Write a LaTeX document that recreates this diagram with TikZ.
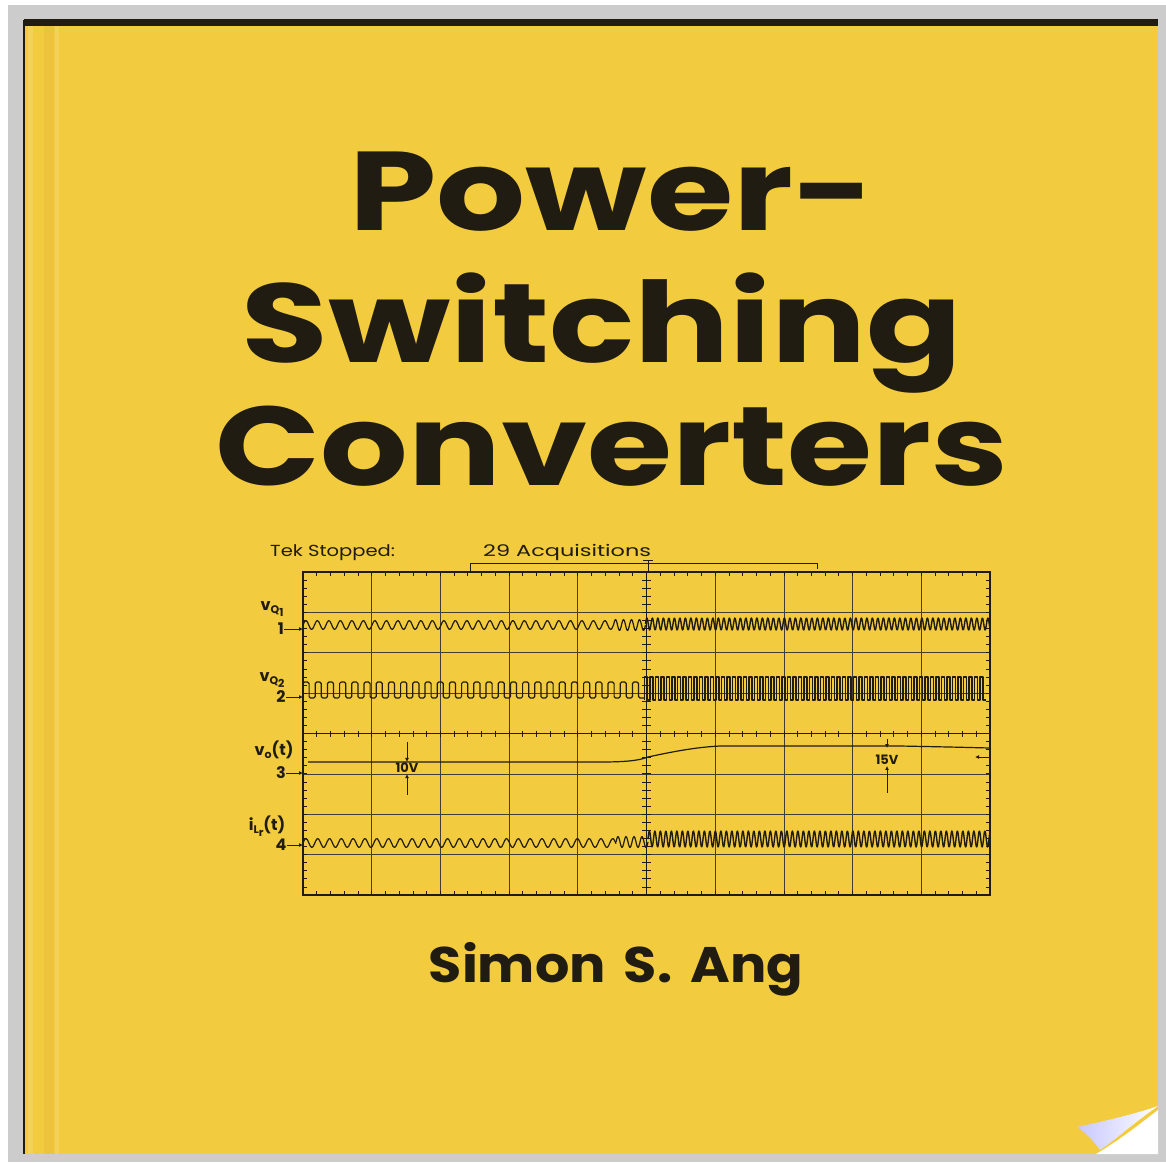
\documentclass[tikz,border=0pt]{standalone}
\usepackage{fontspec}
\setmainfont{Poppins}
\usetikzlibrary{arrows.meta,positioning}
\definecolor{cover}{RGB}{243,203,62}
\definecolor{ink}{RGB}{32,28,18}
\definecolor{frame}{RGB}{204,204,204}
\newcommand{\lowsub}[1]{\raisebox{-3pt}{\fontsize{11}{11}\selectfont #1}}
\newcommand{\widen}[2]{\scalebox{#1}[1]{#2}}

\begin{document}
\begin{tikzpicture}[x=1pt,y=-1pt,
    title/.style={font=\fontsize{112}{112}\selectfont\bfseries,text=ink,anchor=base,inner sep=0pt},
    author/.style={font=\fontsize{50}{50}\selectfont\bfseries,text=ink,anchor=base,inner sep=0pt},
    scopetext/.style={font=\fontsize{16}{16}\selectfont,text=ink,anchor=base west,inner sep=0pt},
    chname/.style={font=\fontsize{16}{16}\selectfont\bfseries,text=ink,inner sep=0pt},
    volt/.style={font=\fontsize{13}{13}\selectfont\rmfamily\bfseries,text=ink,inner sep=1pt},
    trace/.style={ink,line width=1.2pt,line join=round},
    gridline/.style={ink!85,line width=0.7pt},
    tick/.style={ink,line width=0.8pt},
    marker/.style={ink,line width=1pt,-{Latex[length=4pt,width=4pt]}}]
  \useasboundingbox (0,0) rectangle (1166,1162);
  \fill[white] (0,0) rectangle (1166,1162);
  \fill[frame] (8,5) rectangle (1166,1162);
  \fill[cover] (24,20) rectangle (1158,1154);
  \fill[ink] (24,19) rectangle (1158,26);
  \fill[ink] (23,20) rectangle (25,1154);
  \fill[white,opacity=0.15] (28,26) rectangle (33,1154);
  \fill[brown,opacity=0.1] (44,26) rectangle (54,1154);
  \fill[white,opacity=0.15] (55,26) rectangle (59,1154);
  \fill[white] (1096,1154) .. controls (1120,1140) and (1145,1120) .. (1158,1110) -- (1158,1154) -- cycle;
  \shade[left color=blue!22!white,right color=white] (1077,1127) .. controls (1105,1121) and (1135,1114) .. (1158,1106)
    .. controls (1135,1122) and (1115,1140) .. (1100,1150) .. controls (1093,1140) and (1085,1132) .. (1077,1127) -- cycle;

  \node[title] (title_1) at (612,230) {\widen{1.25}{Power-}};
  \node[title] (title_2) at (602,362) {\widen{1.26}{Switching}};
  \node[title] (title_3) at (612,485) {\widen{1.23}{Converters}};
  \node[author] (author) at (616,982) {\widen{1.08}{Simon\,\,S.\,\,Ang}};

  \node[scopetext] (tek) at (270,556) {\widen{1.22}{Tek Stopped:}};
  \node[scopetext] (acq) at (483,556) {\widen{1.4}{29 Acquisitions}};
  \draw[ink,line width=0.8pt] (470,572) -- (470,563) -- (817,563) -- (817,569);
  \draw[ink,line width=0.8pt] (643,560) -- (653,560) (648,560) -- (648,572);

  \draw[gridline] foreach \i in {1,...,9} {({303+68.7*\i},572) -- ({303+68.7*\i},895)};
  \draw[gridline] foreach \j in {1,...,7} {(303,{572+40.375*\j}) -- (990,{572+40.375*\j})};
  \draw[ink,line width=1.1pt] (646.5,572) -- (646.5,895) (303,733.5) -- (990,733.5);
  \draw[ink,line width=1.3pt] (303,572) rectangle (990,895);
  \foreach \k in {1,...,49} {
    \draw[tick] ({303+13.74*\k},730.5) -- ++(0,6);
    \draw[tick] ({303+13.74*\k},572) -- ++(0,4);
    \draw[tick] ({303+13.74*\k},895) -- ++(0,-4);
  }
  \foreach \k in {1,...,39} {
    \draw[tick] (642,{572+8.075*\k}) -- ++(9,0);
    \draw[tick] (303,{572+8.075*\k}) -- ++(4,0);
    \draw[tick] (990,{572+8.075*\k}) -- ++(-4,0);
  }

  \draw[trace] plot[domain=303:613.5,samples=220] (\x,{625-4.5*sin(mod(\x-303,11.5)*31.304)});
  \draw[trace] plot[domain=613.5:645.5,samples=40] (\x,{625-5.5*sin(mod(\x-613.5,8)*45)});
  \draw[trace,line width=1.4pt] plot[domain=0:344.5,samples=700] ({645.5+\x},{624-6*sin(mod(\x,5.5)*65.4545)});

  \draw[trace,rounded corners=1.5pt] (303,698) foreach \i in {1,...,28} { -- ++(0,-16) -- ++(6.1,0) -- ++(0,16) -- ++(6.1,0) };
  \draw[trace,line width=1.4pt] (644.6,700) foreach \i in {1,...,62} { -- ++(0,-23) -- ++(2.75,0) -- ++(0,23) -- ++(2.75,0) };

  \draw[trace] (308,762) -- (600,762) .. controls (630,762) and (640,760) .. (648,757)
    .. controls (680,750) and (700,747) .. (720,746) -- (900,746) .. controls (950,747) .. (990,748);

  \draw[trace] plot[domain=303:616,samples=220] (\x,{843-4.5*sin(mod(\x-303,11.8)*30.508)});
  \draw[trace] plot[domain=616:648,samples=40] (\x,{842-5.5*sin(mod(\x-616,8)*45)});
  \draw[trace,line width=1.4pt] plot[domain=0:342,samples=700] ({648+\x},{839-8*sin(mod(\x,5.5)*65.4545)});

  \node[chname] (name_1) at (272,609) {v\lowsub{Q\lowsub{1}}};
  \node[chname] (name_2) at (272,680) {v\lowsub{Q\lowsub{2}}};
  \node[chname] (name_3) at (274,750) {v\lowsub{o}(t)};
  \node[chname] (name_4) at (267,826) {i\lowsub{L\lowsub{r}}(t)};
  \foreach \n/\y in {1/629,2/697,3/773,4/845} {
    \node[chname] (ch_\n) at (281,\y) {\n};
    \coordinate (in_\n) at (303,\y);
    \draw[marker] (ch_\n) -- (in_\n);
  }

  \node[volt] (v10) at (407,768) {10V};
  \coordinate (v10_top) at (407,742);
  \coordinate (v10_bot) at (407,795);
  \draw[marker] (v10_top) -- (v10.north);
  \draw[marker] (v10_bot) -- (v10.south);
  \node[volt] (v15) at (887,760) {15V};
  \coordinate (v15_top) at (887,739);
  \coordinate (v15_mid) at (887,748);
  \coordinate (v15_bot) at (887,793);
  \draw[marker] (v15_top) -- (v15_mid);
  \draw[marker] (v15_bot) -- (v15.south);
  \coordinate (gnd_a) at (990,757);
  \coordinate (gnd_b) at (975,757);
  \draw[marker] (gnd_a) -- (gnd_b);
\end{tikzpicture}
\end{document}
